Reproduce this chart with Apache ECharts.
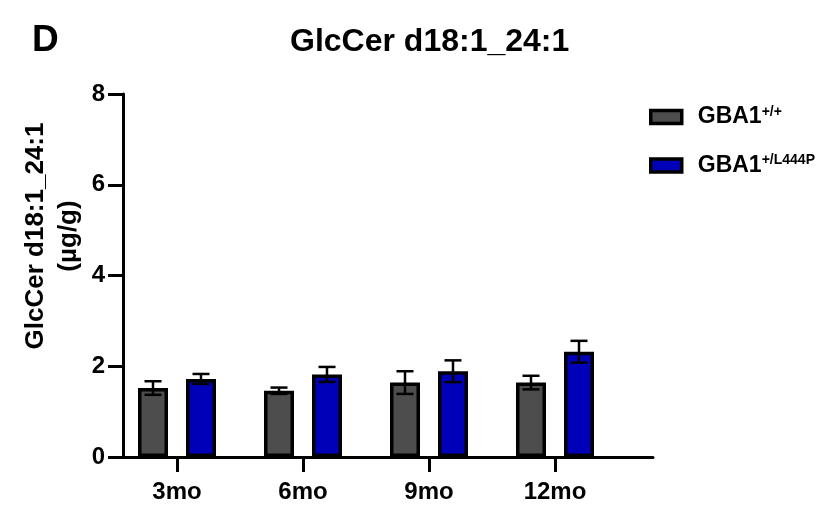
<!DOCTYPE html>
<html>
<head>
<meta charset="utf-8">
<script src="https://cdn.jsdelivr.net/npm/echarts@6/dist/echarts.min.js"></script>
<style>
html,body{margin:0;padding:0;background:#fff;}
#chart{width:833px;height:507px;}
</style>
</head>
<body>
<div id="chart"></div>
<script>
var categories = ['3mo', '6mo', '9mo', '12mo'];
var wtMean = [1.52, 1.46, 1.64, 1.64];
var wtErr = [0.15, 0.07, 0.25, 0.15];
var mutMean = [1.72, 1.82, 1.89, 2.32];
var mutErr = [0.11, 0.165, 0.24, 0.24];
var yTicks = [0, 2, 4, 6, 8];
var seriesNames = ['GBA1+/+', 'GBA1+/L444P'];

var FONT = '"Liberation Sans", Arial, Helvetica, sans-serif';
var GRAY = '#4d4d4d';
var BLUE = '#0000b8';
var BAR_W = 30;
var BAR_OFFSET = 24;

function errData(means, errs) {
  return means.map(function (m, i) { return [i, m - errs[i], m + errs[i]]; });
}

function errRender(offset) {
  return function (params, api) {
    var lo = api.coord([api.value(0), api.value(1)]);
    var hi = api.coord([api.value(0), api.value(2)]);
    var x = lo[0] + offset;
    var hw = 8.5;
    var st = { stroke: '#000', lineWidth: 2.5 };
    return {
      type: 'group',
      children: [
        { type: 'line', shape: { x1: x, y1: lo[1], x2: x, y2: hi[1] }, style: st },
        { type: 'line', shape: { x1: x - hw, y1: hi[1], x2: x + hw, y2: hi[1] }, style: st },
        { type: 'line', shape: { x1: x - hw, y1: lo[1], x2: x + hw, y2: lo[1] }, style: st }
      ]
    };
  };
}

function legendLabel(name) {
  var base = name.slice(0, 4);
  var sup = name.slice(4);
  return '{b|' + base + '}{s|' + sup + '}';
}

var chart = echarts.init(document.getElementById('chart'), null, { renderer: 'canvas' });
chart.setOption({
  backgroundColor: '#fff',
  animation: false,
  textStyle: { fontFamily: FONT },
  title: {
    text: 'GlcCer d18:1_24:1',
    left: 285,
    top: 21,
    textStyle: { fontFamily: FONT, fontSize: 32, fontWeight: 'bold', color: '#000' }
  },
  graphic: [
    {
      type: 'text', left: 32, top: 22,
      style: { text: 'D', font: 'bold 37px ' + FONT, fill: '#000' }
    },
    {
      type: 'text', x: 52, y: 236, rotation: Math.PI / 2,
      style: {
        text: 'GlcCer d18:1_24:1\n(µg/g)',
        font: 'bold 26px ' + FONT, fill: '#000',
        textAlign: 'center', textVerticalAlign: 'middle', lineHeight: 33
      }
    }
  ],
  legend: {
    orient: 'vertical',
    left: 644,
    top: 100,
    itemWidth: 31,
    itemHeight: 13,
    itemGap: 25,
    icon: 'rect',
    data: seriesNames,
    formatter: legendLabel,
    itemStyle: { borderColor: '#000', borderWidth: 3.5 },
    textStyle: {
      padding: [0, 0, 0, 11],
      rich: {
        b: { fontFamily: FONT, fontSize: 23, fontWeight: 'bold', color: '#000' },
        s: { fontFamily: FONT, fontSize: 14, fontWeight: 'bold', color: '#000', verticalAlign: 'top', padding: [0, 0, 10, 0] }
      }
    }
  },
  grid: [
    { left: 114, right: 215, top: 94, bottom: 50 },
    { left: 123, right: 180, top: 94, bottom: 50 }
  ],
  xAxis: [
    {
      type: 'category', gridIndex: 0, data: categories, boundaryGap: true,
      axisLine: { show: false },
      axisTick: { show: true, alignWithLabel: true, length: 15, lineStyle: { color: '#000', width: 3 } },
      axisLabel: { margin: 23, fontFamily: FONT, fontSize: 24, fontWeight: 'bold', color: '#000' }
    },
    {
      type: 'value', gridIndex: 1, min: 0, max: 1,
      axisLine: { show: true, lineStyle: { color: '#000', width: 3 } },
      axisTick: { show: false }, axisLabel: { show: false }, splitLine: { show: false }
    }
  ],
  yAxis: [
    {
      type: 'value', gridIndex: 0, min: yTicks[0], max: yTicks[yTicks.length - 1], interval: 2,
      axisLine: { show: false }, axisTick: { show: false }, axisLabel: { show: false }, splitLine: { show: false }
    },
    {
      type: 'value', gridIndex: 1, min: yTicks[0], max: yTicks[yTicks.length - 1], interval: 2,
      axisLine: { show: true, onZero: false, lineStyle: { color: '#000', width: 3 } },
      axisTick: { show: true, length: 15, lineStyle: { color: '#000', width: 3 } },
      axisLabel: { margin: 18, fontFamily: FONT, fontSize: 24, fontWeight: 'bold', color: '#000' },
      splitLine: { show: false }
    }
  ],
  series: [
    {
      name: seriesNames[0], type: 'bar', xAxisIndex: 0, yAxisIndex: 0,
      data: wtMean, barWidth: BAR_W, barGap: '60%',
      itemStyle: { color: GRAY, borderColor: '#000', borderWidth: 3.5 }
    },
    {
      name: seriesNames[1], type: 'bar', xAxisIndex: 0, yAxisIndex: 0,
      data: mutMean, barWidth: BAR_W,
      itemStyle: { color: BLUE, borderColor: '#000', borderWidth: 3.5 }
    },
    {
      type: 'custom', xAxisIndex: 0, yAxisIndex: 0, z: 5,
      renderItem: errRender(-BAR_OFFSET), data: errData(wtMean, wtErr),
      encode: { x: 0, y: [1, 2] }
    },
    {
      type: 'custom', xAxisIndex: 0, yAxisIndex: 0, z: 5,
      renderItem: errRender(BAR_OFFSET), data: errData(mutMean, mutErr),
      encode: { x: 0, y: [1, 2] }
    }
  ]
});
</script>
</body>
</html>
